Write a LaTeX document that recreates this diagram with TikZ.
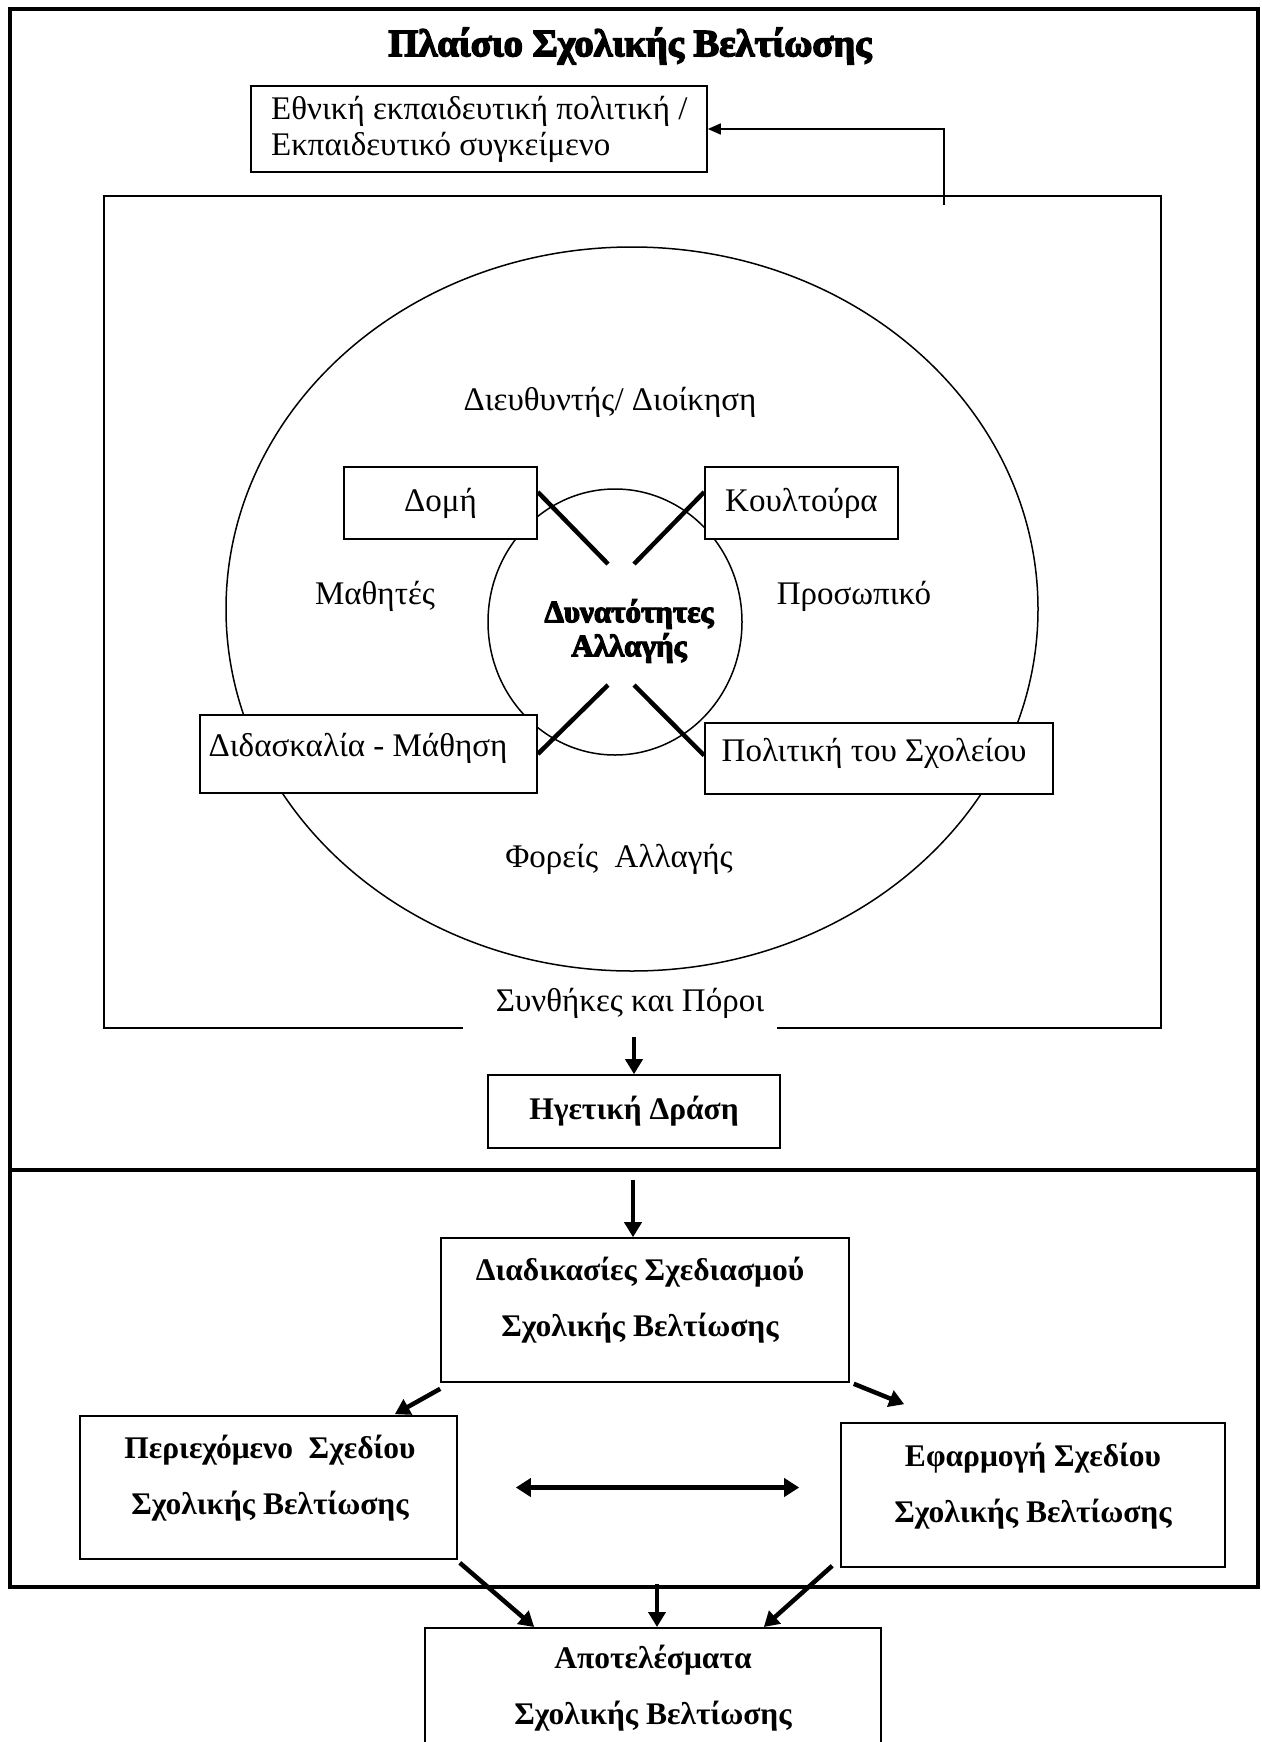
\documentclass[tikz,border=0pt]{standalone}
\usepackage{fontspec}
\setmainfont{Liberation Serif}
\newfontfamily\heavy[BoldFeatures={FakeBold=4}]{Liberation Serif}
\usetikzlibrary{arrows.meta,shapes.geometric}
\begin{document}
\begin{tikzpicture}[x=1pt,y=-1pt,
  box/.style={draw,line width=1.6pt,rectangle,inner sep=0pt,fill=white},
  reg/.style={font=\fontsize{33}{36}\selectfont},
  bld/.style={font=\fontsize{31.5}{56}\selectfont\bfseries,align=center,inner sep=0pt},
  frame/.style={line width=4pt},
  thin/.style={line width=1.5pt},
  xline/.style={line width=4.5pt},
  thk/.style={line width=4.5pt,-{Triangle[length=15pt,width=17pt]}},
  thkb/.style={line width=5pt,{Triangle[length=15pt,width=18pt]}-{Triangle[length=15pt,width=18pt]}},
  tarr/.style={line width=1.6pt,-{Triangle[length=13pt,width=11pt]}}]
\useasboundingbox (0,0) rectangle (1261,1742);
% outer frame and divider
\draw[frame] (10,9) rectangle (1258,1587);
\draw[frame] (10,1170) -- (1258,1170);
% title
\node (title) at (630,46) {\fontsize{38.5}{44}\selectfont\heavy\bfseries Πλαίσιο Σχολικής Βελτίωσης};
% national policy box
\node[box,minimum width=456pt,minimum height=86pt] (eth) at (479,129) {};
\node[reg,align=left,anchor=west,inner sep=0pt] (etht) at (271,129)
  {Εθνική εκπαιδευτική πολιτική /\\ Εκπαιδευτικό συγκείμενο};
% big rectangle with gap
\node[reg,inner sep=0pt] (syn) at (630,1003) {Συνθήκες και Πόροι};
\draw[thin] (463,1028) -- (104,1028) -- (104,196) -- (1161,196) -- (1161,1028) -- (777,1028);
\coordinate (ethstart) at (944,205);
\draw[tarr] (ethstart) |- (eth.east);
% ellipse and circle
\draw[thin] (632,609) ellipse [x radius=406pt, y radius=362pt];
\draw[thin] (615,622) ellipse [x radius=127pt, y radius=133pt];
\node[font=\fontsize{31}{40}\selectfont\heavy\bfseries,align=center,inner sep=0pt] (cap) at (629,631) {Δυνατότητες\\[-6pt]Αλλαγής};
% labels
\node[reg] (dir) at (610,402) {Διευθυντής/ Διοίκηση};
\node[reg] (mat) at (375,596) {Μαθητές};
\node[reg] (pro) at (854,596) {Προσωπικό};
\node[reg] (for) at (619,859) {Φορείς\ \ Αλλαγής};
% four boxes
\node[box,reg,minimum width=193pt,minimum height=72pt] (dom) at (440.5,503) {Δομή};
\node[box,reg,minimum width=193pt,minimum height=72pt] (kul) at (801.5,503) {Κουλτούρα};
\node[box,reg,minimum width=337pt,minimum height=78pt] (did) at (368.5,754) {};
\node[reg] (didt) at (358,748) {Διδασκαλία - Μάθηση};
\node[box,reg,minimum width=348pt,minimum height=71pt] (pol) at (879,758.5) {};
\node[reg] (polt) at (874,753) {Πολιτική του Σχολείου};
% X lines
\coordinate (c1) at (608,564);
\coordinate (c2) at (634,564);
\coordinate (c3) at (608,685);
\coordinate (c4) at (634,685);
\draw[xline] ([yshift=11pt]dom.east) -- (c1);
\draw[xline] ([yshift=11pt]kul.west) -- (c2);
\draw[xline] (c3) -- (did.east);
\draw[xline] (c4) -- ([yshift=3pt]pol.west);
% leadership
\node[box,bld,minimum width=292pt,minimum height=73pt] (heg) at (634,1111.5) {Ηγετική Δράση};
\coordinate (s1) at (634,1037);
\draw[thk] (s1) -- (heg.north);
% planning
\node[box,minimum width=408pt,minimum height=144pt] (dia) at (645,1310) {};
\node[bld] (diat) at (640,1300) {Διαδικασίες Σχεδιασμού\\Σχολικής Βελτίωσης};
\coordinate (s2) at (633,1180);
\draw[thk] (s2) -- (s2 |- dia.north);
\node[box,minimum width=377pt,minimum height=143pt] (per) at (268.5,1487.5) {};
\node[bld] (pert) at (270,1478) {Περιεχόμενο\ \ Σχεδίου\\Σχολικής Βελτίωσης};
\node[box,minimum width=384pt,minimum height=144pt] (efa) at (1033,1495) {};
\node[bld] (efat) at (1033,1486) {Εφαρμογή Σχεδίου\\Σχολικής Βελτίωσης};
\draw[thk] ([yshift=-6pt]dia.south west) -- ([xshift=-63pt,yshift=1pt]per.north east);
\draw[thk] ([xshift=4pt,yshift=-1pt]dia.south east) -- ([xshift=64pt,yshift=18pt]efa.north west);
\draw[thkb,shorten <=58pt,shorten >=41pt] (per.east) -- (per.east -| efa.west);
% results
\node[box,minimum width=456pt,minimum height=123pt,anchor=north] (apo) at (653,1627) {};
\node[bld] (apot) at (653,1688) {Αποτελέσματα\\Σχολικής Βελτίωσης};
\draw[thk] ([xshift=2pt,yshift=-3pt]per.south east) -- ([xshift=110pt]apo.north west);
\coordinate (s3) at (657,1584);
\draw[thk] (s3) -- (s3 |- apo.north);
\draw[thk] ([xshift=-8pt,yshift=2pt]efa.south west) -- ([xshift=-118pt]apo.north east);
\end{tikzpicture}
\end{document}
